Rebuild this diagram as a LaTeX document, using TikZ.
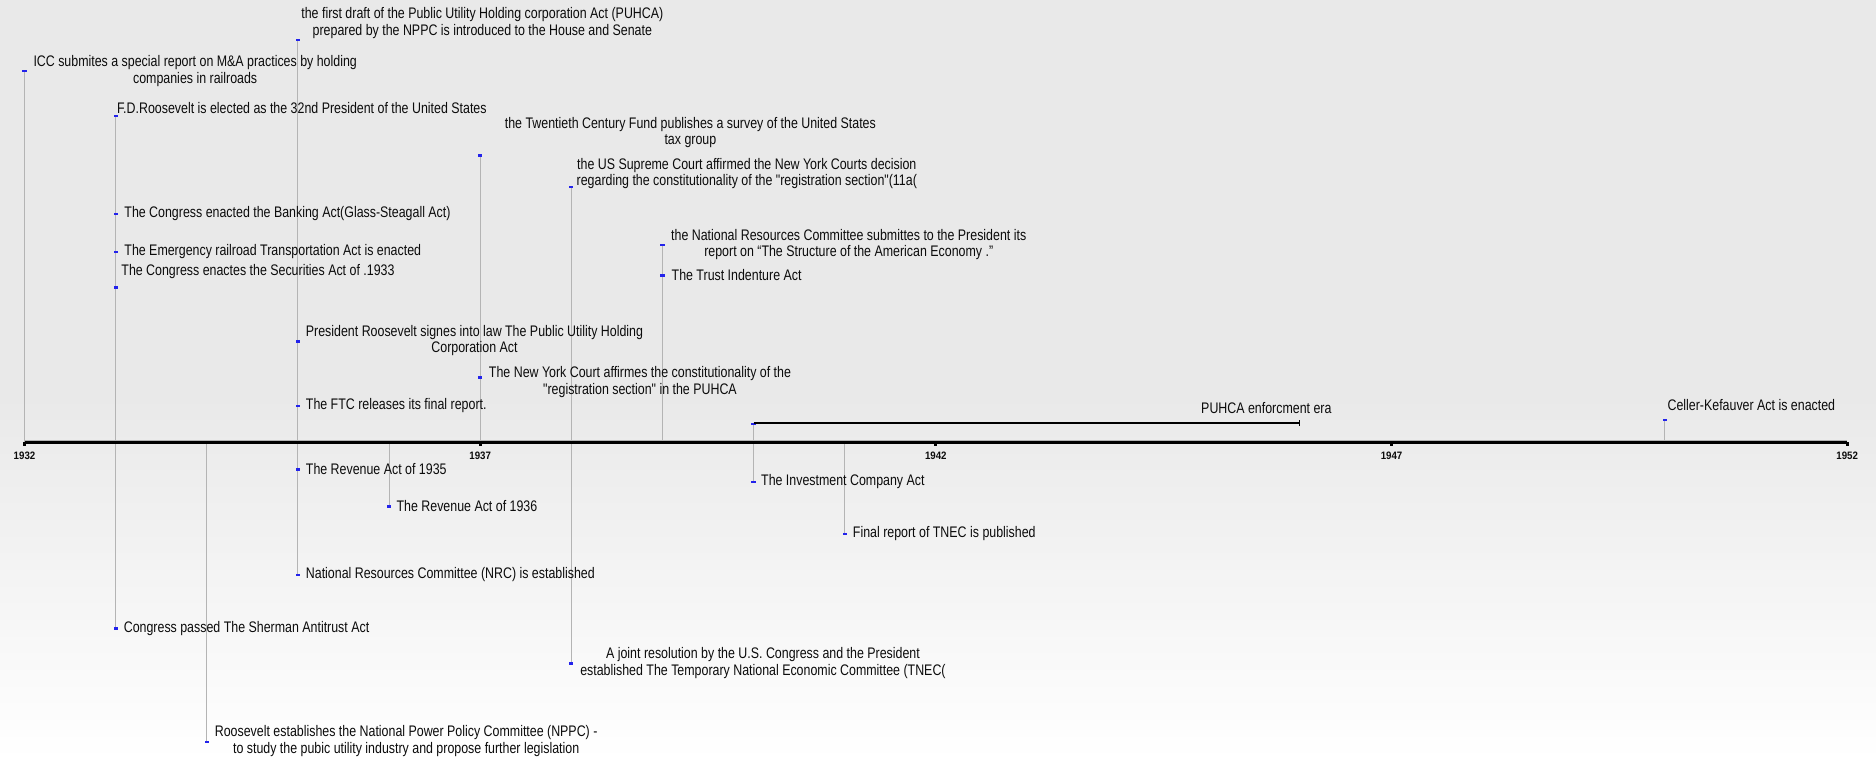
\documentclass[tikz,border=0pt]{standalone}
\usepackage{fontspec}
\newfontfamily\evfont[FakeStretch=0.81]{Liberation Sans}
\newfontfamily\yrfont[FakeStretch=0.9]{Liberation Sans}
\usetikzlibrary{arrows.meta}
\pgfdeclarelayer{back}
\pgfdeclarelayer{stems}
\pgfsetlayers{back,stems,main}
\definecolor{stemgray}{RGB}{180,180,180}
\definecolor{markblue}{RGB}{35,35,235}
\definecolor{bgtop}{RGB}{233,233,233}
\definecolor{txt}{RGB}{12,12,12}
\begin{document}
\begin{tikzpicture}[x=1pt,y=-1pt,
  evtext/.style={font={\evfont\fontsize{12.8}{13.9}\selectfont}, text=txt, inner sep=0pt, outer sep=0pt, align=center, anchor=west},
  yrlab/.style={font={\yrfont\bfseries\fontsize{9}{10}\selectfont}, text=txt, inner sep=0pt},
  evmark/.style={rectangle, fill=markblue, minimum width=3.6pt, minimum height=1.9pt, inner sep=0pt, outer sep=0pt},
  stem/.style={draw=stemgray, line width=0.8pt},
  tickmark/.style={rectangle, fill=black, minimum width=2.4pt, minimum height=3pt, inner sep=0pt},
  erabar/.style={draw=black, line width=1.7pt, -{Bar[width=5pt,line width=1.4pt]}}
]
\useasboundingbox (0,0) rectangle (1568,636);
\begin{pgfonlayer}{back}
  \fill[bgtop] (0,0) rectangle (1568,330);
  \shade[top color=bgtop, bottom color=white] (0,330) rectangle (1568,636);
\end{pgfonlayer}

% axis coordinates
\coordinate (ax1932) at (20.5,370);
\coordinate (ax1933) at (96.7,370);
\coordinate (ax1934) at (172.8,370);
\coordinate (ax1935) at (249.0,370);
\coordinate (ax1936) at (325.2,370);
\coordinate (ax1937) at (401.4,370);
\coordinate (ax1938) at (477.5,370);
\coordinate (ax1939) at (553.7,370);
\coordinate (ax1940) at (629.9,370);
\coordinate (ax1941) at (706.0,370);
\coordinate (ax1942) at (782.2,370);
\coordinate (ax1947) at (1163.1,370);
\coordinate (ax1950) at (1391.6,370);
\coordinate (ax1952) at (1543.9,370);

% axis
\draw[stemgray, line width=0.8pt] ([yshift=2.1pt]ax1932) -- ([yshift=2.1pt]ax1952);
\draw[black, line width=2.5pt] (ax1932) -- (ax1952);
\foreach \y in {1932,1937,1942,1947,1952}{
  \node[tickmark] (tk\y) at ([yshift=-1.2pt]ax\y) {};
}
\node[yrlab] (y1932) at (20.5,381) {1932};
\node[yrlab] (y1937) at (401.4,381) {1937};
\node[yrlab] (y1942) at (782.2,381) {1942};
\node[yrlab] (y1947) at (1163.1,381) {1947};
\node[yrlab] (y1952) at (1543.9,381) {1952};

% markers
\node[evmark] (mICC) at (20.5,59.4) {};
\node[evmark] (mFDR) at (96.7,97) {};
\node[evmark] (mBank) at (96.7,178.9) {};
\node[evmark] (mEmer) at (96.7,210.5) {};
\node[evmark] (mSec) at (96.7,240.2) {};
\node[evmark] (mSher) at (96.7,525.3) {};
\node[evmark] (mNPPC) at (172.8,620.1) {};
\node[evmark] (mDraft) at (249.0,33.4) {};
\node[evmark] (mSigns) at (249.0,285.4) {};
\node[evmark] (mFTC) at (249.0,339.2) {};
\node[evmark] (mRevA) at (249.0,392.5) {};
\node[evmark] (mNRCe) at (249.0,480.8) {};
\node[evmark] (mRevB) at (325.2,423.3) {};
\node[evmark] (mTwen) at (401.4,129.9) {};
\node[evmark] (mNY) at (401.4,315.5) {};
\node[evmark] (mSup) at (477.5,156.6) {};
\node[evmark] (mJoint) at (477.5,554.6) {};
\node[evmark] (mNRCs) at (553.7,204.8) {};
\node[evmark] (mTrust) at (553.7,230.2) {};
\node[evmark] (mEra) at (629.9,354.5) {};
\node[evmark] (mInv) at (629.9,403) {};
\node[evmark] (mTNEC) at (706.0,446.2) {};
\node[evmark] (mCel) at (1391.6,351.2) {};

% stems
\begin{pgfonlayer}{stems}
\draw[stem] (ax1932) -- (mICC.center);
\draw[stem] (ax1933) -- (mFDR.center);
\draw[stem] (ax1933) -- (mSher.center);
\draw[stem] (ax1934) -- (mNPPC.center);
\draw[stem] (ax1935) -- (mDraft.center);
\draw[stem] (ax1935) -- (mNRCe.center);
\draw[stem] (ax1936) -- (mRevB.center);
\draw[stem] (ax1937) -- (mTwen.center);
\draw[stem] (ax1938) -- (mSup.center);
\draw[stem] (ax1938) -- (mJoint.center);
\draw[stem] (ax1939) -- (mNRCs.center);
\draw[stem] (ax1940) -- (mEra.center);
\draw[stem] (ax1940) -- (mInv.center);
\draw[stem] (ax1941) -- (mTNEC.center);
\draw[stem] (ax1950) -- (mCel.center);
\end{pgfonlayer}

% era bar
\coordinate (eraEnd) at (1086.9,353.1);
\draw[erabar] (mEra.north) -- (eraEnd |- mEra.north);
\node[evtext] (tEra) at (1004,340.9) {PUHCA enforcment era};

% texts
\node[evtext] (tICC) at (28,59.6) {ICC submites a special report on M\&A practices by holding\\companies in railroads};
\node[evtext] (tFDR) at (97.8,90.6) {F.D.Roosevelt is elected as the 32nd President of the United States};
\node[evtext] (tBank) at (104,178.3) {The Congress enacted the Banking Act(Glass-Steagall Act)};
\node[evtext] (tEmer) at (104,209.9) {The Emergency railroad Transportation Act is enacted};
\node[evtext] (tSec) at (101.5,227.1) {The Congress enactes the Securities Act of .1933};
\node[evtext] (tSher) at (103.5,525.3) {Congress passed The Sherman Antitrust Act};
\node[evtext] (tNPPC) at (179.6,619.5) {Roosevelt establishes the National Power Policy Committee (NPPC) -\\to study the pubic utility industry and propose further legislation};
\node[evtext] (tDraft) at (251.9,19.2) {the first draft of the Public Utility Holding corporation Act (PUHCA)\\prepared by the NPPC is introduced to the House and Senate};
\node[evtext] (tSigns) at (255.7,284.5) {President Roosevelt signes into law The Public Utility Holding\\Corporation Act};
\node[evtext] (tFTC) at (255.7,338.6) {The FTC releases its final report.};
\node[evtext] (tRevA) at (255.7,392.2) {The Revenue Act of 1935};
\node[evtext] (tNRCe) at (255.7,480.5) {National Resources Committee (NRC) is established};
\node[evtext] (tRevB) at (331.5,423.1) {The Revenue Act of 1936};
\node[evtext] (tTwen) at (422,110.8) {the Twentieth Century Fund publishes a survey of the United States\\tax group};
\node[evtext] (tNY) at (408.7,319.1) {The New York Court affirmes the constitutionality of the\\"registration section" in the PUHCA};
\node[evtext] (tSup) at (482,144.9) {the US Supreme Court affirmed the New York Courts decision\\regarding the constitutionality of the "registration section"(11a(};
\node[evtext] (tJoint) at (485,554) {A joint resolution by the U.S. Congress and the President\\established The Temporary National Economic Committee (TNEC(};
\node[evtext] (tNRCs) at (561,204.5) {the National Resources Committee submittes to the President its\\report on “The Structure of the American Economy .”};
\node[evtext] (tTrust) at (561.4,229.9) {The Trust Indenture Act};
\node[evtext] (tInv) at (636.2,402.7) {The Investment Company Act};
\node[evtext] (tTNEC) at (712.9,445.9) {Final report of TNEC is published};
\node[evtext] (tCel) at (1393.8,338.6) {Celler-Kefauver Act is enacted};
\end{tikzpicture}
\end{document}
